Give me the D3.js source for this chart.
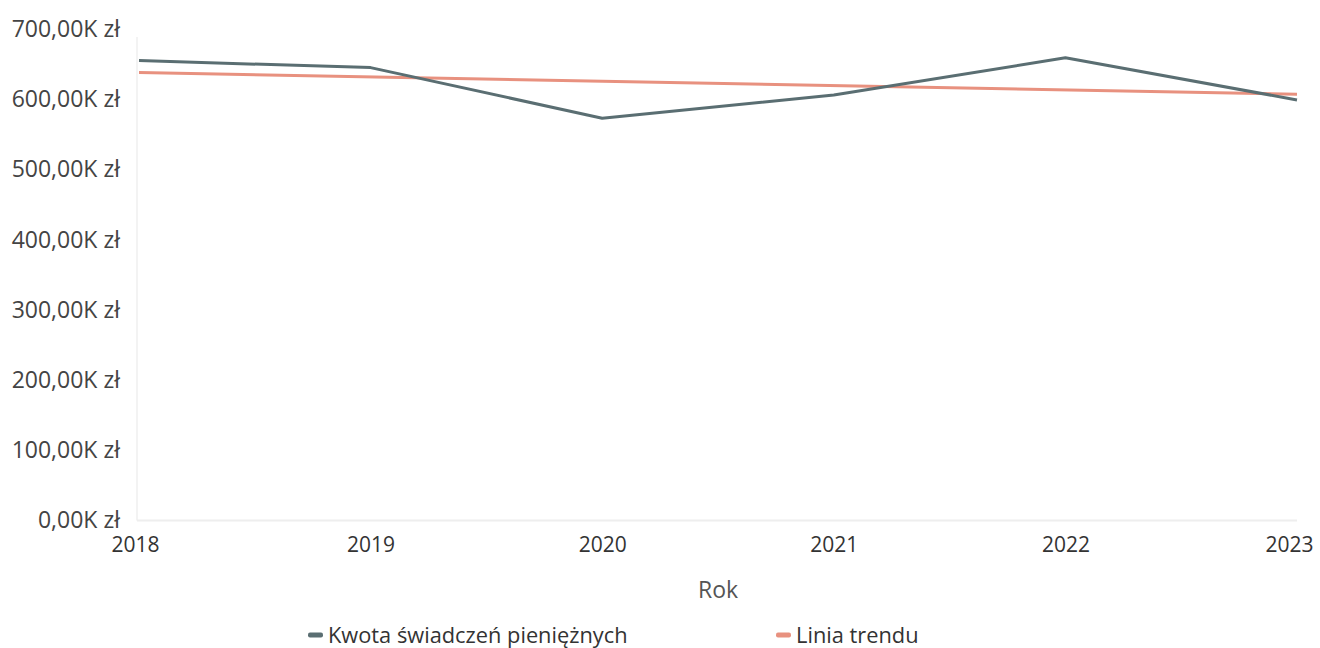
<!DOCTYPE html>
<html>
<head>
<meta charset="utf-8">
<script src="https://cdn.jsdelivr.net/npm/d3@7"></script>
<style>
  body { margin: 0; background: #fff; }
  #svg-container { width: 1320px; height: 648px; }
  text { font-family: "Open Sans", "Noto Sans", sans-serif; fill: #444; }
</style>
</head>
<body>
<div id="svg-container"></div>
<script>
// data
const years = [2018, 2019, 2020, 2021, 2022, 2023];
const amounts = [655000, 645000, 573000, 606000, 659000, 599000];
const trendYears = [2018, 2023];
const trendValues = [638000, 607000];
const yTicks = [0, 100000, 200000, 300000, 400000, 500000, 600000, 700000];
const seriesNames = ["Kwota świadczeń pieniężnych", "Linia trendu"];
const colors = ["#5a6e72", "#e8917f"];

const width = 1320, height = 648;
const margin = { top: 29, right: 23, bottom: 128, left: 139 };

const svg = d3.select("#svg-container").append("svg")
  .attr("width", width).attr("height", height);

const x = d3.scalePoint().domain(years).range([margin.left, width - margin.right]);
const y = d3.scaleLinear().domain([0, 700000]).range([height - margin.bottom + 0.5, margin.top]);

const fmt = (v) => (v / 1000).toFixed(2).replace(".", ",") + "K zł";

// faint axis lines
svg.append("line")
  .attr("x1", margin.left - 2).attr("x2", margin.left - 2)
  .attr("y1", y(700000) + 8).attr("y2", y(0))
  .attr("stroke", "#f3f3f3").attr("stroke-width", 2);
svg.append("line")
  .attr("x1", margin.left - 2).attr("x2", width - margin.right)
  .attr("y1", y(0)).attr("y2", y(0))
  .attr("stroke", "#eeeeee").attr("stroke-width", 2);

// y axis
const yAxis = svg.append("g")
  .attr("transform", `translate(${margin.left - 19},0)`)
  .call(d3.axisLeft(y).tickValues(yTicks).tickFormat(fmt).tickSize(0).tickPadding(0));
yAxis.select(".domain").remove();
yAxis.selectAll("text").attr("font-size", 23).style("fill", "#444");

// x axis
const xAxis = svg.append("g")
  .attr("transform", `translate(0,${y(0) + 16})`)
  .call(d3.axisBottom(x).tickFormat(d3.format("d")).tickSize(0).tickPadding(0));
xAxis.select(".domain").remove();
xAxis.selectAll("text").attr("font-size", 21).attr("dy", "0.75em").style("fill", "#333")
  .attr("dx", (d) => (d === 2018 ? -4 : d === 2023 ? -8 : 0));

svg.append("text")
  .attr("x", (x(2020) + x(2021)) / 2 - 0).attr("y", 598)
  .attr("text-anchor", "middle").attr("font-size", 23).style("fill", "#555")
  .text("Rok");

// lines
const line = d3.line().x((d) => x(d[0])).y((d) => y(d[1]));
const trendX = d3.scaleLinear().domain(d3.extent(trendYears)).range([x(2018), x(2023)]);

svg.append("path")
  .datum(trendYears.map((t, i) => [t, trendValues[i]]))
  .attr("fill", "none").attr("stroke", colors[1]).attr("stroke-width", 3)
  .attr("d", d3.line().x((d) => trendX(d[0])).y((d) => y(d[1])));

svg.append("path")
  .datum(years.map((t, i) => [t, amounts[i]]))
  .attr("fill", "none").attr("stroke", colors[0]).attr("stroke-width", 3)
  .attr("stroke-linejoin", "round")
  .attr("d", line);

// legend
const legendX = [308, 776];
seriesNames.forEach((name, i) => {
  const g = svg.append("g").attr("transform", `translate(${legendX[i]},635)`);
  g.append("rect").attr("x", 0).attr("y", -2.5).attr("width", 15).attr("height", 5)
    .attr("rx", 2).attr("fill", colors[i]);
  g.append("text").attr("x", 20).attr("y", 0).attr("dy", "0.35em")
    .attr("font-size", 21.8).style("fill", "#333").text(name);
});
</script>
</body>
</html>
